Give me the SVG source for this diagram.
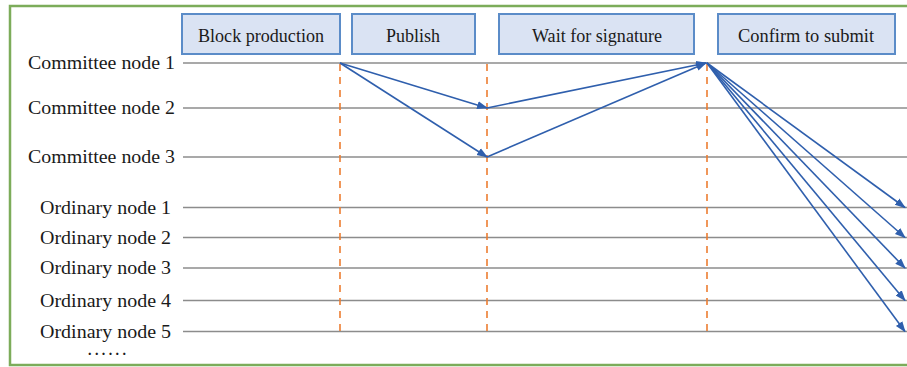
<svg xmlns="http://www.w3.org/2000/svg" width="907" height="367" viewBox="0 0 907 367">
<defs>
<marker id="ah" viewBox="0 0 10 10" refX="9" refY="5" markerWidth="11" markerHeight="11" markerUnits="userSpaceOnUse" orient="auto">
<path d="M0,1.4 L10,5 L0,8.6 Z" fill="#2f5fad"/>
</marker>
<style>
text{font-family:'Liberation Serif','Times New Roman',Times,serif;font-size:19px;fill:#1a1a1a}
.btxt{text-anchor:middle;font-size:18.5px}
.box{fill:#dae3f3;stroke:#5b8cc8;stroke-width:2}
.lane{stroke:#8c8c8c;stroke-width:1.6}
.phase{stroke:#ed7d31;stroke-width:1.6;stroke-dasharray:7,6}
.msg{stroke:#2f5fad;stroke-width:1.6;fill:none;marker-end:url(#ah)}
</style>
</defs>
<rect x="0" y="0" width="907" height="367" fill="#ffffff"/>
<rect x="10" y="6" width="920" height="359" fill="none" stroke="#7cac5a" stroke-width="2.5"/>

<g id="phases">
<g id="phase-block"><rect class="box" x="182" y="14" width="158" height="40"/><text class="btxt" x="261" y="41.5" textLength="126" lengthAdjust="spacingAndGlyphs">Block production</text></g>
<g id="phase-publish"><rect class="box" x="352" y="14" width="123" height="40"/><text class="btxt" x="413" y="41.5" textLength="54" lengthAdjust="spacingAndGlyphs">Publish</text></g>
<g id="phase-wait"><rect class="box" x="499" y="14" width="195" height="40"/><text class="btxt" x="597" y="41.5" textLength="130" lengthAdjust="spacingAndGlyphs">Wait for signature</text></g>
<g id="phase-confirm"><rect class="box" x="718" y="14" width="177" height="40"/><text class="btxt" x="806" y="41.5" textLength="136" lengthAdjust="spacingAndGlyphs">Confirm to submit</text></g>
</g>

<g id="nodes">
<g id="committee1"><text x="28" y="69" textLength="147" lengthAdjust="spacingAndGlyphs">Committee node 1</text><line class="lane" x1="183" y1="63" x2="907" y2="63"/></g>
<g id="committee2"><text x="28" y="114" textLength="147" lengthAdjust="spacingAndGlyphs">Committee node 2</text><line class="lane" x1="183" y1="108" x2="907" y2="108"/></g>
<g id="committee3"><text x="28" y="163" textLength="147" lengthAdjust="spacingAndGlyphs">Committee node 3</text><line class="lane" x1="183" y1="157" x2="907" y2="157"/></g>
<g id="ordinary1"><text x="40" y="213.5" textLength="131" lengthAdjust="spacingAndGlyphs">Ordinary node 1</text><line class="lane" x1="183" y1="207.5" x2="907" y2="207.5"/></g>
<g id="ordinary2"><text x="40" y="243.5" textLength="131" lengthAdjust="spacingAndGlyphs">Ordinary node 2</text><line class="lane" x1="183" y1="237.5" x2="907" y2="237.5"/></g>
<g id="ordinary3"><text x="40" y="274" textLength="131" lengthAdjust="spacingAndGlyphs">Ordinary node 3</text><line class="lane" x1="183" y1="268" x2="907" y2="268"/></g>
<g id="ordinary4"><text x="40" y="306.5" textLength="131" lengthAdjust="spacingAndGlyphs">Ordinary node 4</text><line class="lane" x1="183" y1="300.5" x2="907" y2="300.5"/></g>
<g id="ordinary5"><text x="40" y="337.5" textLength="131" lengthAdjust="spacingAndGlyphs">Ordinary node 5</text><line class="lane" x1="183" y1="331.5" x2="907" y2="331.5"/></g>
<g id="more"><text x="88" y="355" style="font-size:14px;font-weight:bold" textLength="38" lengthAdjust="spacing">......</text></g>
</g>

<g id="dividers">
<line class="phase" x1="340" y1="64" x2="340" y2="332"/>
<line class="phase" x1="487" y1="64" x2="487" y2="332"/>
<line class="phase" x1="707" y1="64" x2="707" y2="332"/>
</g>

<g id="connectors">
<line class="msg" x1="340" y1="63" x2="487" y2="108"/>
<line class="msg" x1="340" y1="63" x2="487" y2="157"/>
<line class="msg" x1="487" y1="108" x2="706" y2="63"/>
<line class="msg" x1="487" y1="157" x2="706" y2="63"/>
<line class="msg" x1="707" y1="63" x2="905" y2="207.5"/>
<line class="msg" x1="707" y1="63" x2="905" y2="237.5"/>
<line class="msg" x1="707" y1="63" x2="905" y2="268"/>
<line class="msg" x1="707" y1="63" x2="905" y2="300.5"/>
<line class="msg" x1="707" y1="63" x2="905" y2="331.5"/>
</g>
</svg>
